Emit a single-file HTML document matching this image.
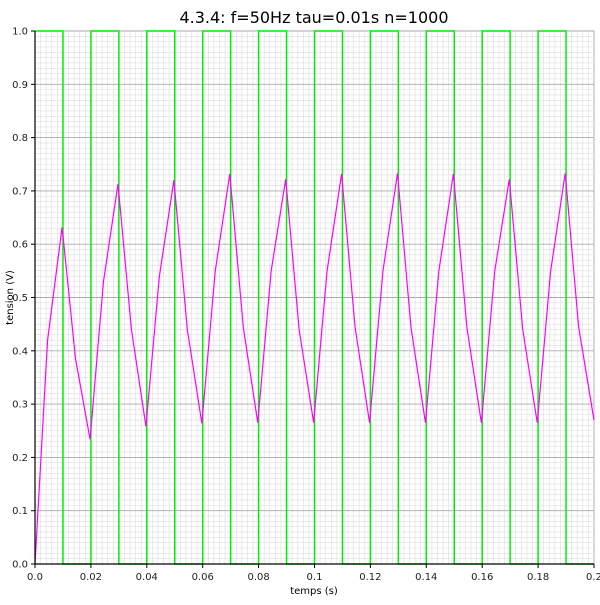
<!DOCTYPE html>
<html><head><meta charset="utf-8"><style>
body{margin:0;background:#fff;font-family:"Liberation Sans","DejaVu Sans",sans-serif}
svg text{font-family:"DejaVu Sans","Liberation Sans",sans-serif}
</style></head><body>
<svg id="c" width="600" height="600"></svg>
<script>
const sqT=[0,0.01,0.02,0.03,0.04,0.05,0.06,0.07,0.08,0.09,0.1,0.11,0.12,0.13,0.14,0.15,0.16,0.17,0.18,0.19,0.2];
const sqV=[1,0,1,0,1,0,1,0,1,0,1,0,1,0,1,0,1,0,1,0];
const rcT=[0,0.0045,0.0097,0.0145,0.0197,0.0245,0.0297,0.0345,0.0397,0.0445,0.0497,0.0545,0.0597,0.0645,0.0697,0.0745,0.0797,0.0845,0.0897,0.0945,0.0997,0.1045,0.1097,0.1145,0.1197,0.1245,0.1297,0.1345,0.1397,0.1445,0.1497,0.1545,0.1597,0.1645,0.1697,0.1745,0.1797,0.1845,0.1897,0.1945,0.2];
const rcV=[0,0.42,0.632,0.385,0.234,0.53,0.713,0.44,0.258,0.54,0.72,0.44,0.264,0.55,0.732,0.445,0.265,0.55,0.722,0.44,0.265,0.55,0.732,0.445,0.265,0.55,0.733,0.445,0.265,0.55,0.732,0.445,0.265,0.55,0.722,0.44,0.265,0.55,0.733,0.445,0.27];
const xTicks=[0,0.02,0.04,0.06,0.08,0.1,0.12,0.14,0.16,0.18,0.2];
const xTickLabels=["0.0","0.02","0.04","0.06","0.08","0.1","0.12","0.14","0.16","0.18","0.2"];
const yTicks=[0,0.1,0.2,0.3,0.4,0.5,0.6,0.7,0.8,0.9,1.0];
const yTickLabels=["0.0","0.1","0.2","0.3","0.4","0.5","0.6","0.7","0.8","0.9","1.0"];
const L=35,R=594,T=31,B=564;
const X=v=>L+v/0.2*(R-L), Y=v=>B-v*(B-T);
const s=document.getElementById('c'),NS='http://www.w3.org/2000/svg';
function el(t,a,p){const e=document.createElementNS(NS,t);for(const k in a)e.setAttribute(k,a[k]);(p||s).appendChild(e);return e;}
const g=el('g',{});


for(let i=0;i<=100;i++){const x=X(i*0.002);el('line',{x1:x,x2:x,y1:T,y2:B,stroke:i%10?'#ddd':'#aaa','stroke-width':i%10?0.6:0.9},g);}
for(let i=0;i<=100;i++){const y=Y(i*0.01);el('line',{x1:L,x2:R,y1:y,y2:y,stroke:i%10?'#ddd':'#aaa','stroke-width':i%10?0.6:0.9},g);}
let p='';for(let i=0;i<sqV.length;i++){p+=(i?'L':'M')+X(sqT[i])+','+Y(sqV[i])+'L'+X(sqT[i+1])+','+Y(sqV[i]);}
const sq=el('path',{d:p,fill:'none',stroke:'#00ee00','stroke-width':1.5});


const rc=el('polyline',{points:rcT.map((t,i)=>X(t)+','+Y(rcV[i])).join(' '),fill:'none',stroke:'#ff00ff','stroke-width':1.2});


const ax=el('path',{d:`M${L},${T}V${B}H${R}`,fill:'none',stroke:'#000','stroke-width':1.2});


xTicks.forEach((v,i)=>{el('line',{x1:X(v),x2:X(v),y1:B,y2:B+4,stroke:'#000'});const t=el('text',{x:X(v),y:B+16,'font-size':10,'text-anchor':'middle',fill:'#222'});t.textContent=xTickLabels[i];

});
yTicks.forEach((v,i)=>{el('line',{x1:L-4,x2:L,y1:Y(v),y2:Y(v),stroke:'#000'});const t=el('text',{x:L-7,y:Y(v)+3.5,'font-size':10,'text-anchor':'end',fill:'#222'});t.textContent=yTickLabels[i];

});
const ti=el('text',{x:314,y:23,'font-size':16,'text-anchor':'middle',fill:'#000'});ti.textContent='4.3.4: f=50Hz tau=0.01s n=1000';


const xl=el('text',{x:314,y:594,'font-size':10,'text-anchor':'middle',fill:'#000'});xl.textContent='temps (s)';


const yl=el('text',{x:0,y:0,'font-size':10,'text-anchor':'middle',fill:'#000',transform:`translate(13,${(T+B)/2}) rotate(-90)`});yl.textContent='tension (V)';


</script>
</body></html>
